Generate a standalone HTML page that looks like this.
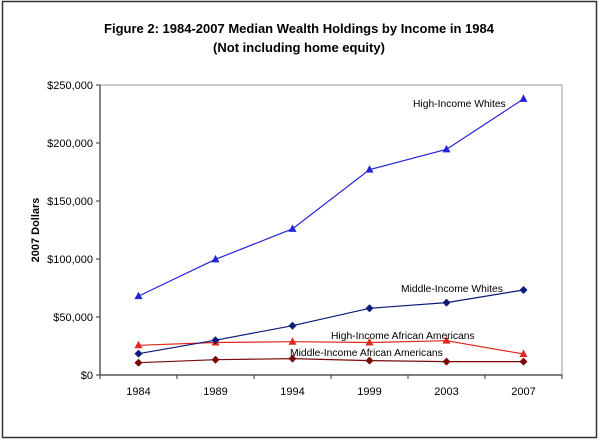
<!DOCTYPE html>
<html><head><meta charset="utf-8"><style>
html,body{margin:0;padding:0;background:#fff;}
svg{display:block;font-family:"Liberation Sans",Arial,sans-serif;}
</style></head><body>
<svg width="600" height="443" viewBox="0 0 600 443">
<rect x="2.5" y="1.5" width="594" height="436" fill="#fff" stroke="#333" stroke-width="1.5"/>
<text x="299" y="33" text-anchor="middle" font-size="13" font-weight="bold">Figure 2: 1984-2007 Median Wealth Holdings by Income  in 1984</text>
<text x="299" y="52" text-anchor="middle" font-size="13" font-weight="bold">(Not including home equity)</text>
<text transform="translate(39,230) rotate(-90)" text-anchor="middle" font-size="11" font-weight="bold">2007 Dollars</text>
<g id="plot"></g>
</svg>
<script>
const categories = ["1984","1989","1994","1999","2003","2007"];
const yTicks = [0,50000,100000,150000,200000,250000];
const yTickLabels = ["$0","$50,000","$100,000","$150,000","$200,000","$250,000"];
const highWhites = [68000,99700,126000,177000,194500,238000];
const midWhites = [18400,30000,42500,57500,62400,73300];
const highAA = [25600,28000,28700,28000,29600,18100];
const midAA = [10600,13200,14100,12400,11500,11500];
const seriesNames = ["High-Income Whites","Middle-Income Whites","High-Income African Americans","Middle-Income African Americans"];

const L=100,R=562,T=85,B=375;
const NS="http://www.w3.org/2000/svg";
const g=document.getElementById('plot');
const xS=i=>L+(R-L)/categories.length*(i+0.5);
const yS=v=>B-(v/250000)*(B-T);
function mk(tag,attrs){const e=document.createElementNS(NS,tag);for(const k in attrs)e.setAttribute(k,attrs[k]);g.appendChild(e);return e;}

let e=mk('rect',{x:L,y:T,width:R-L,height:B-T,fill:'none',stroke:'#999','stroke-width':1});


e=mk('line',{x1:L,y1:T,x2:L,y2:B,stroke:'#333','stroke-width':1.2});


e=mk('line',{x1:L,y1:B,x2:R,y2:B,stroke:'#333','stroke-width':1.2});



yTicks.forEach((v,i)=>{
  const y=yS(v);
  const t=mk('line',{x1:L-4,y1:y,x2:L,y2:y,stroke:'#333'});
  
  
  const tx=mk('text',{x:L-7,y:y+4,'text-anchor':'end','font-size':11});
  tx.textContent=yTickLabels[i];
  
  
});
for(let i=0;i<=categories.length;i++){
  const x=L+(R-L)/categories.length*i;
  const t=mk('line',{x1:x,y1:B,x2:x,y2:B+4,stroke:'#333'});
  
  
}
categories.forEach((c,i)=>{
  const tx=mk('text',{x:xS(i),y:B+20,'text-anchor':'middle','font-size':11});
  tx.textContent=c;
  
  
});

function series(vals,color,marker,name){
  const pl=mk('polyline',{points:vals.map((v,i)=>xS(i)+','+yS(v)).join(' '),fill:'none',stroke:color,'stroke-width':1.2});
  
  
  vals.forEach((v,i)=>{
    const x=xS(i),y=yS(v);
    let m;
    if(marker==='tri') m=mk('polygon',{points:`${x},${y-4.5} ${x-4},${y+3} ${x+4},${y+3}`,fill:color});
    else m=mk('polygon',{points:`${x},${y-4} ${x+4},${y} ${x},${y+4} ${x-4},${y}`,fill:color});
    
    
  });
}
series(midAA,'#7a0a0a','dia','middle-income-african-americans');
series(highAA,'#e0281e','tri','high-income-african-americans');
series(midWhites,'#0c1a7a','dia','middle-income-whites');
series(highWhites,'#2424d6','tri','high-income-whites');

const labels=[[413,107,0],[401,292,1],[331,339,2],[290,356,3]];
const labelNames=['label-high-income-whites','label-middle-income-whites','label-high-income-african-americans','label-middle-income-african-americans'];
labels.forEach((l,i)=>{
  const tx=mk('text',{x:l[0],y:l[1],'font-size':10.3});
  tx.textContent=seriesNames[l[2]];
  
  
});
</script>
</body></html>
